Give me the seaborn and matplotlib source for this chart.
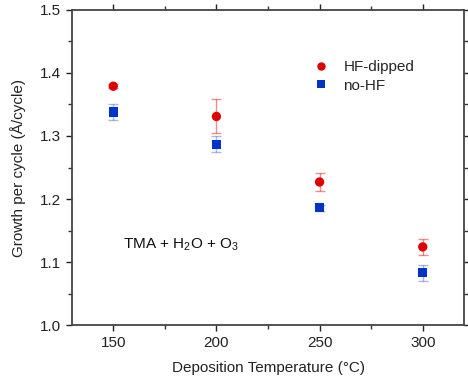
import matplotlib
matplotlib.use("Agg")
import matplotlib.pyplot as plt
import seaborn as sns
import pandas as pd
import numpy as np
from matplotlib.ticker import MultipleLocator

temps = [150, 200, 250, 300]
hf_dipped = [1.379, 1.331, 1.227, 1.124]
hf_dipped_err = [0.003, 0.027, 0.014, 0.013]
no_hf = [1.338, 1.287, 1.186, 1.083]
no_hf_err = [0.013, 0.013, 0.005, 0.013]

sns.set_theme(style="ticks")
plt.rcParams['font.family'] = ['Liberation Sans', 'DejaVu Sans']
plt.rcParams['mathtext.fontset'] = 'custom'
plt.rcParams['mathtext.rm'] = 'Liberation Sans'
plt.rcParams['mathtext.it'] = 'Liberation Sans:italic'

df = pd.DataFrame({
    "temp": temps * 2,
    "gpc": hf_dipped + no_hf,
    "series": ["HF-dipped"] * 4 + ["no-HF"] * 4,
})

red = "#dd0000"
blue = "#0033cc"

fig = plt.figure(figsize=(4.68, 3.84), dpi=100)
ax = fig.add_axes([0.1538, 0.1536, 0.8377, 0.8204])

ax.errorbar(temps, hf_dipped, yerr=hf_dipped_err, fmt="none", ecolor=red, alpha=0.45,
            elinewidth=1, capsize=3.5, capthick=1, zorder=2)
ax.errorbar(temps, no_hf, yerr=no_hf_err, fmt="none", ecolor=blue, alpha=0.35,
            elinewidth=1, capsize=3.5, capthick=1, zorder=2)

sns.scatterplot(data=df, x="temp", y="gpc", hue="series", style="series",
                palette={"HF-dipped": red, "no-HF": blue},
                markers={"HF-dipped": "o", "no-HF": "s"},
                s=45, linewidth=0, ax=ax, zorder=3)

ax.set_xlim(130, 320)
ax.set_ylim(1.0, 1.5)
ax.xaxis.set_major_locator(MultipleLocator(50))
ax.xaxis.set_minor_locator(MultipleLocator(25))
ax.yaxis.set_major_locator(MultipleLocator(0.1))
ax.yaxis.set_minor_locator(MultipleLocator(0.05))
ax.yaxis.set_major_formatter(matplotlib.ticker.FormatStrFormatter("%.1f"))

ax.tick_params(which="both", direction="out", top=True, right=True,
               labeltop=False, labelright=False, color="#333333", width=1)
ax.tick_params(which="major", length=4.5, labelsize=11, colors="#222222")
ax.tick_params(which="minor", length=3)
for s in ax.spines.values():
    s.set_color("#444444")
    s.set_linewidth(1.3)

ax.set_xlabel("Deposition Temperature (\u00b0C)", fontsize=11, color="#222222", labelpad=8)
ax.set_ylabel("Growth per cycle (\u00c5/cycle)", fontsize=11, color="#222222", labelpad=10)

ax.text(154.5, 1.128, "TMA + H$_2$O + O$_3$", fontsize=11, color="#111111",
        va="center", ha="left")

leg = ax.legend(loc="upper left", bbox_to_anchor=(0.56, 0.885), frameon=False,
                fontsize=11, handletextpad=0.5, labelspacing=0.3,
                markerscale=0.9, title=None)

fig.savefig("out.png", dpi=100)
